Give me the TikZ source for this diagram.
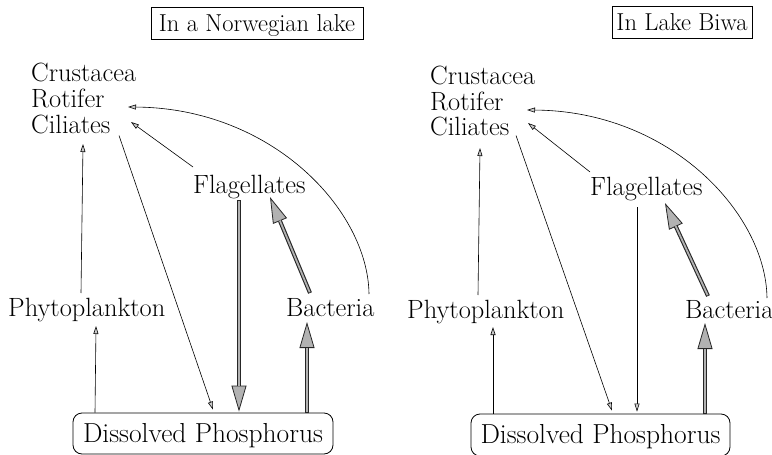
\documentclass[tikz,border=0pt]{standalone}
\usepackage{fontspec}
\usetikzlibrary{arrows.meta,calc}
\begin{document}
\begin{tikzpicture}[x=1pt,y=-1pt,
  lbl/.style={inner sep=0pt, anchor=base west, font=\fontsize{26.4}{28}\selectfont},
  ttl/.style={draw, line width=0.8pt, minimum height=32pt, inner xsep=4pt, inner ysep=0pt,
              font=\fontsize{24.5}{26}\selectfont, text height=16pt, text depth=0pt},
  dpbox/.style={draw, rounded corners=9pt, line width=0.8pt, inner sep=0pt,
              font=\fontsize{27.5}{29}\selectfont, text height=17pt, text depth=0pt},
  thinarr/.style={line width=0.6pt, -{Triangle[length=8pt,width=5pt,line width=0.6pt,fill=gray!40]}},
  thickarr/.style={line width=4pt, draw=black!85,
     -{Triangle[length=26pt,width=15pt,line width=0.8pt,fill=gray!60]},
     postaction={draw=gray!60, line width=1.8pt, -, shorten >=25.5pt, shorten <=0.8pt}}
]
\useasboundingbox (0,0) rectangle (772,455);

% ---------- left panel ----------
\node[ttl, minimum width=212pt] (Ltitle) at (257,23) {In a Norwegian lake};
\node[lbl] (Lcrus) at (31,81) {Crustacea};
\node[lbl] (Lrot) at (31,107.5) {Rotifer};
\node[lbl] (Lcil) at (31,133.5) {Ciliates};
\node[lbl] (Lflag) at (193,193) {Flagellates};
\node[lbl] (Lphy) at (8,316) {Phytoplankton};
\node[lbl] (Lbac) at (286,316) {Bacteria};
\node[dpbox, minimum width=260pt, minimum height=41pt] (LDP) at (203,433.5) {Dissolved Phosphorus};

\draw[thinarr] ($(Lphy.base west)+(73,-23)$) -- ($(Lcil.base west)+(52,10.5)$);
\draw[thinarr] ($(Lflag.base west)+(0,-26)$) -- ($(Lcil.base west)+(100,-11.5)$);
\draw[thinarr] ($(Lbac.base west)+(83,-22)$) .. controls +(-1,-84) and +(144,1) .. ($(Lrot.base west)+(97,-0.5)$);
\draw[thinarr] ($(Lcil.base west)+(88,2)$) -- ($(LDP.north)+(10,-3)$);
\draw[thinarr] ($(LDP.north)+(-108,0)$) -- ($(Lphy.base west)+(88,10)$);
\draw[thickarr] ($(Lflag.base west)+(46,7)$) -- ($(LDP.north)+(36,-1)$);
\draw[thickarr] ($(Lbac.base west)+(24,-23)$) -- ($(Lflag.base west)+(77,4)$);
\draw[thickarr] ($(LDP.north)+(104,0)$) -- ($(Lbac.base west)+(21,6)$);

% ---------- right panel ----------
\node[ttl, minimum width=140pt] (Rtitle) at (682,22.5) {In Lake Biwa};
\node[lbl] (Rcrus) at (430,84.5) {Crustacea};
\node[lbl] (Rrot) at (430,110) {Rotifer};
\node[lbl] (Rcil) at (430,135.5) {Ciliates};
\node[lbl] (Rflag) at (590,195) {Flagellates};
\node[lbl] (Rphy) at (407,318) {Phytoplankton};
\node[lbl] (Rbac) at (685,318) {Bacteria};
\node[dpbox, minimum width=259pt, minimum height=42pt] (RDP) at (600.5,435) {Dissolved Phosphorus};

\draw[thinarr] ($(Rphy.base west)+(71,-23)$) -- ($(Rcil.base west)+(50,12.5)$);
\draw[thinarr] ($(Rflag.base west)+(0,-23)$) -- ($(Rcil.base west)+(98,-12.5)$);
\draw[thinarr] ($(Rbac.base west)+(82,-20)$) .. controls +(-1,-84) and +(144,1) .. ($(Rrot.base west)+(97,0)$);
\draw[thinarr] ($(Rcil.base west)+(86,0)$) -- ($(RDP.north)+(11.5,-3)$);
\draw[thinarr] ($(Rflag.base west)+(47,12)$) -- ($(RDP.north)+(36.5,-2)$);
\draw[thinarr] ($(RDP.north)+(-107.5,0)$) -- ($(Rphy.base west)+(86,9)$);
\draw[thickarr] ($(Rbac.base west)+(23,-22)$) -- ($(Rflag.base west)+(75,8)$);
\draw[thickarr] ($(RDP.north)+(104.5,0)$) -- ($(Rbac.base west)+(20,5)$);
\end{tikzpicture}
\end{document}
